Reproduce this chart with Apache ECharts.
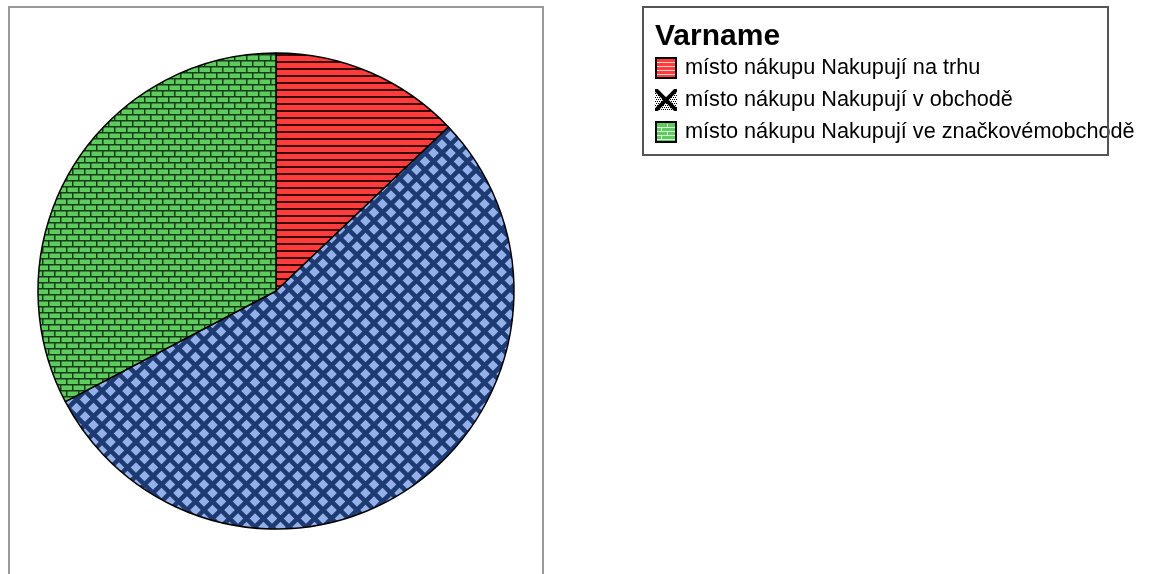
<!DOCTYPE html>
<html>
<head>
<meta charset="utf-8">
<script src="https://cdn.jsdelivr.net/npm/echarts@6/dist/echarts.min.js"></script>
<style>
  html, body { margin: 0; padding: 0; background: #fff; }
  #chart { width: 1155px; height: 574px; }
</style>
</head>
<body>
<div id="chart"></div>
<script>
// Data (shares of the pie, in percent)
const categories = [
    'místo nákupu Nakupují na trhu',
    'místo nákupu Nakupují v obchodě',
    'místo nákupu Nakupují ve značkovémobchodě'
];
const shares = [12.9, 54.4, 32.7];
const legendTitle = 'Varname';

const FONT = '"Liberation Sans", Arial, sans-serif';

// Small canvas tiles used as fill patterns
function makeCanvas(w, h, draw) {
    const c = document.createElement('canvas');
    c.width = w;
    c.height = h;
    draw(c.getContext('2d'), w, h);
    return c;
}

function drawLines(ctx, w, h) {
    ctx.fillStyle = '#ff3c3c';
    ctx.fillRect(0, 0, w, h);
    ctx.fillStyle = '#3a0505';
    ctx.fillRect(0, h - 2, w, 2);
}

function drawLattice(ctx, w, h) {
    ctx.fillStyle = '#93b0e8';
    ctx.fillRect(0, 0, w, h);
    ctx.strokeStyle = '#1d3a72';
    ctx.lineWidth = 4.5;
    ctx.beginPath();
    ctx.moveTo(-2, -2); ctx.lineTo(w + 2, h + 2);
    ctx.moveTo(w + 2, -2); ctx.lineTo(-2, h + 2);
    ctx.stroke();
}

function drawBricks(ctx, w, h) {
    ctx.fillStyle = '#5ecb5e';
    ctx.fillRect(0, 0, w, h);
    ctx.fillStyle = '#173c17';
    ctx.fillRect(0, 0, w, 1.5);
    ctx.fillRect(0, h / 2, w, 1.5);
    ctx.fillRect(0, 0, 1.5, h / 2);
    ctx.fillRect(w / 2, h / 2, 1.5, h / 2);
}

const redTile = makeCanvas(8, 7, drawLines);
const blueTile = makeCanvas(17, 17, drawLattice);
const greenTile = makeCanvas(12, 12, drawBricks);

// Legend icons
function iconRed(ctx, w, h) {
    ctx.fillStyle = '#ff3c3c';
    ctx.fillRect(0, 0, w, h);
    ctx.fillStyle = '#ffd0d0';
    for (let y = 5; y < h - 2; y += 4) ctx.fillRect(2, y, w - 4, 1);
    ctx.strokeStyle = '#000';
    ctx.lineWidth = 2;
    ctx.strokeRect(1, 1, w - 2, h - 2);
}

function iconCross(ctx, w, h) {
    ctx.fillStyle = '#fff';
    ctx.fillRect(0, 0, w, h);
    ctx.fillStyle = '#000';
    for (let y = 0; y < h; y += 2) {
        for (let x = (y / 2) % 2; x < w; x += 2) {
            if (y < h / 2 && Math.abs(x - w / 2) < (h / 2 - y) * 0.7) continue;
            ctx.fillRect(x, y, 1, 1);
        }
    }
    ctx.strokeStyle = '#000';
    ctx.lineWidth = 4;
    ctx.beginPath();
    ctx.moveTo(0, 0); ctx.lineTo(w, h);
    ctx.moveTo(w, 0); ctx.lineTo(0, h);
    ctx.stroke();
}

function iconBricks(ctx, w, h) {
    ctx.fillStyle = '#5ecb5e';
    ctx.fillRect(0, 0, w, h);
    ctx.fillStyle = '#d8f5d8';
    for (let y = 6, r = 0; y < h - 2; y += 4, r++) {
        ctx.fillRect(2, y, w - 4, 1);
        const off = r % 2 ? 6 : 12;
        ctx.fillRect(off, y - 3, 1, 3);
    }
    ctx.strokeStyle = '#000';
    ctx.lineWidth = 2;
    ctx.strokeRect(1, 1, w - 2, h - 2);
}

const iconW = 22, iconH = 22;
const icons = [iconRed, iconCross, iconBricks].map(f => 'image://' + makeCanvas(iconW, iconH, f).toDataURL());
const tiles = [redTile, blueTile, greenTile];

const chart = echarts.init(document.getElementById('chart'), null, { renderer: 'canvas' });

chart.setOption({
    animation: false,
    textStyle: { fontFamily: FONT },
    graphic: [
        {
            type: 'rect',
            shape: { x: 9, y: 7, width: 534, height: 600 },
            style: { fill: 'none', stroke: '#9a9a9a', lineWidth: 2 },
            z: 0
        },
        {
            type: 'rect',
            shape: { x: 643, y: 7, width: 465, height: 148 },
            style: { fill: 'none', stroke: '#555', lineWidth: 2 },
            z: 10
        },
        {
            type: 'text',
            left: 655,
            top: 22,
            style: { text: legendTitle, font: 'bold 30px ' + FONT, fill: '#000' },
            z: 10
        }
    ],
    legend: {
        orient: 'vertical',
        left: 650,
        top: 52,
        itemWidth: iconW,
        itemHeight: iconH,
        itemGap: 10,
        selectedMode: false,
        textStyle: { fontSize: 21.7, color: '#000', fontFamily: FONT, padding: [0, 0, 0, 3] },
        data: categories.map((name, i) => ({ name, icon: icons[i] }))
    },
    series: [{
        type: 'pie',
        center: [276, 291],
        radius: 238,
        startAngle: 90,
        clockwise: true,
        label: { show: false },
        labelLine: { show: false },
        silent: true,
        itemStyle: { borderColor: '#000', borderWidth: 1.5 },
        data: categories.map((name, i) => ({
            name,
            value: shares[i],
            itemStyle: { color: { image: tiles[i], repeat: 'repeat' } }
        }))
    }]
});
</script>
</body>
</html>
